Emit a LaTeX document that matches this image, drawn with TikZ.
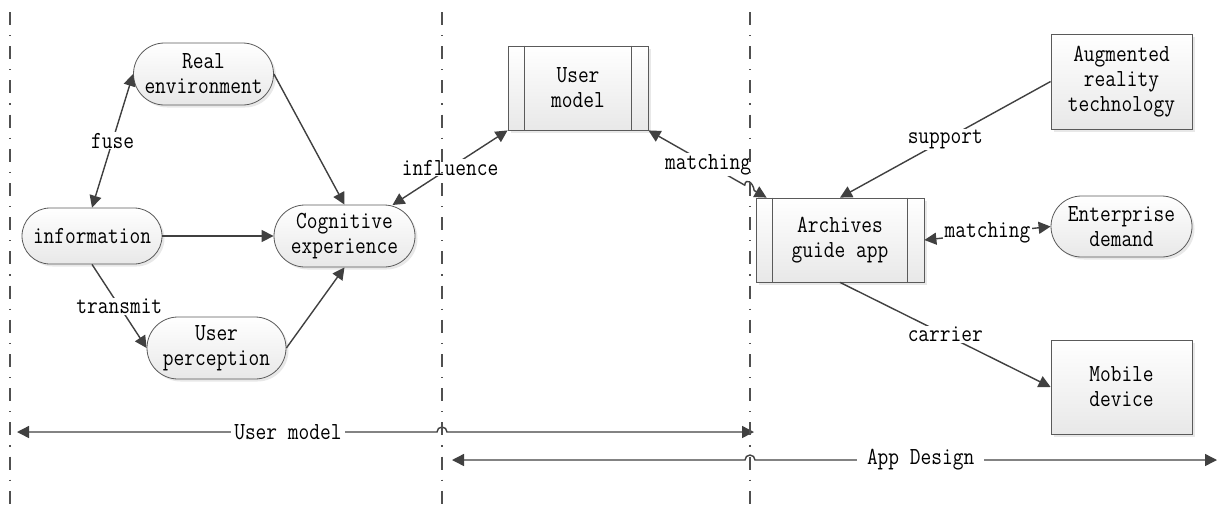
\documentclass[tikz,border=0pt]{standalone}
\usepackage{fontspec}
\setmainfont{Latin Modern Mono}[FakeStretch=0.85]
\usetikzlibrary{arrows.meta,shapes.misc,calc,shadows}
\definecolor{arrc}{RGB}{64,64,64}
\definecolor{nodec}{RGB}{90,90,90}
\definecolor{sepc}{RGB}{80,80,80}
\definecolor{fillb}{RGB}{232,232,232}
\newcommand\dfont{\fontsize{24.5pt}{25pt}\selectfont}
\tikzset{
  box/.style={draw=nodec, line width=0.8pt, top color=white, bottom color=fillb,
    align=center, font=\dfont, inner sep=0pt,
    drop shadow={opacity=0.18, shadow xshift=2.5pt, shadow yshift=-2.5pt}},
  stad/.style={box, rounded rectangle, minimum width=140pt, minimum height=62pt},
  rbox/.style={box, rectangle, minimum width=141pt, minimum height=95pt},
  conn/.style={draw=arrc, line width=1.4pt, -{Triangle[length=12pt,width=12pt]}},
  biconn/.style={draw=arrc, line width=1.4pt, {Triangle[length=12pt,width=12pt]}-{Triangle[length=12pt,width=12pt]}},
  lab/.style={fill=white, font=\dfont, inner xsep=2pt, inner ysep=1pt},
  sepline/.style={draw=sepc, line width=1.2pt, dash pattern=on 13pt off 10pt on 1.2pt off 10pt}
}
\begin{document}
\begin{tikzpicture}[x=1pt,y=-1pt]
\useasboundingbox (0,0) rectangle (1218,507);
% nodes
\node[stad] (re) at (203.5,74) {Real\\environment};
\node[stad, minimum height=56pt] (inf) at (92,236) {information};
\node[stad, minimum width=141pt] (cog) at (344.5,236) {Cognitive\\experience};
\node[stad, minimum width=139pt] (up) at (216.5,348) {User\\perception};
\node[box, minimum width=140pt, minimum height=84pt] (um) at (578,88) {User\\model};
\draw[draw=nodec, line width=0.8pt] ($(um.north west)+(17,0)$) -- ($(um.south west)+(17,0)$)
  ($(um.north east)+(-17,0)$) -- ($(um.south east)+(-17,0)$);
\node[box, minimum width=168pt, minimum height=84pt] (ar) at (840,240) {Archives\\guide app};
\draw[draw=nodec, line width=0.8pt] ($(ar.north west)+(17,0)$) -- ($(ar.south west)+(17,0)$)
  ($(ar.north east)+(-17,0)$) -- ($(ar.south east)+(-17,0)$);
\node[rbox] (aug) at (1121.5,81.5) {Augmented\\reality\\technology};
\node[stad, minimum width=141pt, minimum height=61pt] (ent) at (1121.5,226.5) {Enterprise\\demand};
\node[rbox, minimum height=94pt] (mob) at (1121.5,387) {Mobile\\device};
% connectors
\draw[biconn] (inf.north) -- node[lab]{fuse} (re.west);
\draw[conn] (re.east) -- (cog.north);
\draw[conn] (inf.east) -- (cog.west);
\draw[conn] (inf.south) -- node[lab]{transmit} (up.west);
\draw[conn] (up.east) -- (cog.south);
\coordinate (cogne) at ($(cog.center)+(48,-31)$);
\draw[biconn] (cogne) -- node[lab]{influence} (um.south west);
\coordinate (artop) at ($(ar.north west)+(11,0)$);
\coordinate (hA) at ($(um.south east)!0.815!(artop)$);
\coordinate (hB) at ($(um.south east)!0.895!(artop)$);
\draw[biconn] (um.south east) -- node[lab,pos=0.62]{matching} (hA)
  .. controls ($(hA)+(1,-8)$) and ($(hB)+(-1,-8)$) .. (hB) -- (artop);
\draw[conn] (aug.west) -- node[lab]{support} (ar.north);
\draw[biconn] (ar.east) -- node[lab]{matching} (ent.west);
\draw[conn] (ar.south) -- node[lab]{carrier} (mob.west);
% separators
\coordinate (s1) at (10,12);
\coordinate (s2) at (442,12);
\coordinate (s3) at (750,12);
\coordinate (bot) at (0,507);
% bottom ranges
\coordinate (l1) at (17,432);
\coordinate (l2) at (754,432);
\coordinate (a1) at (452,460);
\coordinate (a2) at (1217,460);
\draw[biconn] (l1) -- node[lab,pos=0.645,inner xsep=3pt]{User model} ($(s2|-l1)+(-5,0)$)
  arc[start angle=180, end angle=0, radius=5pt] -- (l2);
\draw[biconn] (a1) -- ($(s3|-a1)+(-5,0)$)
  arc[start angle=180, end angle=0, radius=5pt] -- node[lab,pos=0.3585,inner xsep=10pt]{App Design} (a2);
\draw[sepline] (s1) -- (s1|-bot);
\draw[sepline] (s2) -- (s2|-bot);
\draw[sepline] (s3) -- (s3|-bot);
\end{tikzpicture}
\end{document}
